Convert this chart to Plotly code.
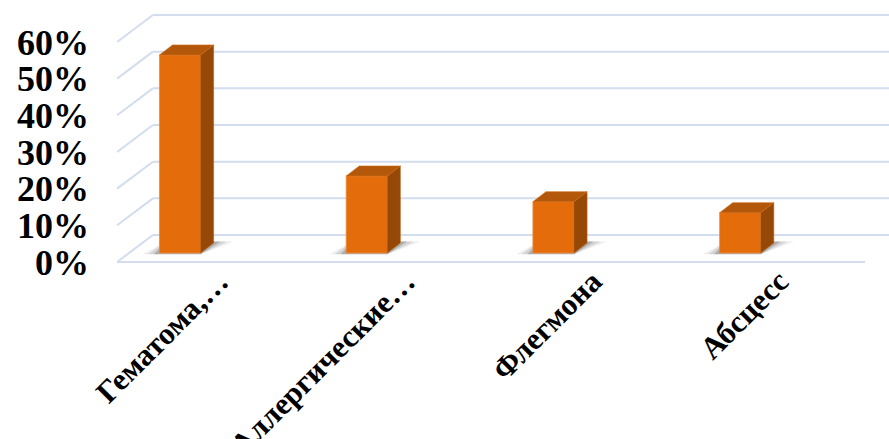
import plotly.graph_objects as go

# ---- data ----
categories = ["Гематома,…", "Аллергические…", "Флегмона", "Абсцесс"]
values = [54, 21, 14, 11]  # percent
tick_pcts = [0, 10, 20, 30, 40, 50, 60]
tick_labels = [f"{p}%" for p in tick_pcts]

# ---- pseudo-3D geometry (in axis units: category index / percent) ----
BAR_W = 0.22
DEPTH_X = 0.07
DEPTH_Y = 2.73
FRONT_LEFT_X = -0.337
FRONT_Y = -2.45
BACK_LEFT_X = -0.145
BACK_Y = 4.9
FLOOR_RIGHT_X = 3.669
BACK_RIGHT_X = FLOOR_RIGHT_X + (BACK_LEFT_X - FRONT_LEFT_X)
LABEL_SHIFT = 0.21

FRONT_COLOR = "#E46C0A"
SIDE_COLOR = "#964806"
TOP_COLOR = "#B3580A"
GRID_COLOR = "#D3DDEE"

fig = go.Figure()

x_idx = list(range(len(categories)))

# walls: back gridlines, left-wall diagonals, floor front edge
shapes = []
for p in tick_pcts:
    shapes.append(dict(type="line", xref="x", yref="y", layer="below",
                       x0=BACK_LEFT_X, x1=BACK_RIGHT_X, y0=p + BACK_Y, y1=p + BACK_Y,
                       line=dict(color=GRID_COLOR, width=2)))
    shapes.append(dict(type="line", xref="x", yref="y", layer="below",
                       x0=FRONT_LEFT_X, x1=BACK_LEFT_X, y0=p + FRONT_Y, y1=p + BACK_Y,
                       line=dict(color=GRID_COLOR, width=2)))
shapes.append(dict(type="line", xref="x", yref="y", layer="below",
                   x0=FRONT_LEFT_X, x1=FLOOR_RIGHT_X, y0=FRONT_Y, y1=FRONT_Y,
                   line=dict(color=GRID_COLOR, width=2)))

# soft shadows on the floor (below the bars)
for i in x_idx:
    for ext, op in [(0.09, 0.07), (0.06, 0.11), (0.03, 0.18)]:
        xl = i - BAR_W / 2
        xr = i + BAR_W / 2
        pts = [(xl - ext, -0.35), (xr, -0.35), (xr + DEPTH_X + ext * 1.2, DEPTH_Y + 0.4),
               (xl + DEPTH_X * 0.5, DEPTH_Y + 0.4)]
        path = "M " + " L ".join(f"{a},{b}" for a, b in pts) + " Z"
        shapes.append(dict(type="path", xref="x", yref="y", layer="below",
                           path=path, fillcolor=f"rgba(0,0,0,{op})",
                           line=dict(width=0)))

# front faces
fig.add_trace(go.Bar(
    x=x_idx, y=values, width=BAR_W,
    marker=dict(color=FRONT_COLOR, line=dict(color="#EE8A3C", width=0.8)),
    hoverinfo="skip", showlegend=False))

# side and top faces
for i, v in zip(x_idx, values):
    xr = i + BAR_W / 2
    xl = i - BAR_W / 2
    fig.add_trace(go.Scatter(
        x=[xr, xr + DEPTH_X, xr + DEPTH_X, xr, xr],
        y=[0, DEPTH_Y, v + DEPTH_Y, v, 0],
        fill="toself", mode="lines", line=dict(width=0.6, color="#B8600F"),
        fillcolor=SIDE_COLOR, hoverinfo="skip", showlegend=False))
    fig.add_trace(go.Scatter(
        x=[xl, xr, xr + DEPTH_X, xl + DEPTH_X, xl],
        y=[v, v, v + DEPTH_Y, v + DEPTH_Y, v],
        fill="toself", mode="lines", line=dict(width=0.6, color="#CC6A18"),
        fillcolor=TOP_COLOR, hoverinfo="skip", showlegend=False))

fig.update_layout(
    width=889, height=439,
    margin=dict(l=90, r=0, t=0, b=169, autoexpand=False),
    paper_bgcolor="white", plot_bgcolor="white",
    shapes=shapes,
    xaxis=dict(range=[-0.482, 3.797], tickvals=[i + LABEL_SHIFT for i in x_idx],
               ticktext=categories, tickangle=-45, showgrid=False, zeroline=False,
               showline=False, ticks="", automargin=False, ticklabelstandoff=-14,
               tickfont=dict(family="Liberation Serif", size=31, color="black", weight="bold")),
    yaxis=dict(range=[-4.636, 68.99], tickvals=[p + FRONT_Y for p in tick_pcts],
               ticktext=tick_labels, showgrid=False, zeroline=False, showline=False,
               ticks="", automargin=False,
               tickfont=dict(family="Liberation Serif", size=36, color="black", weight="bold")),
)

fig.write_html("out.html")
